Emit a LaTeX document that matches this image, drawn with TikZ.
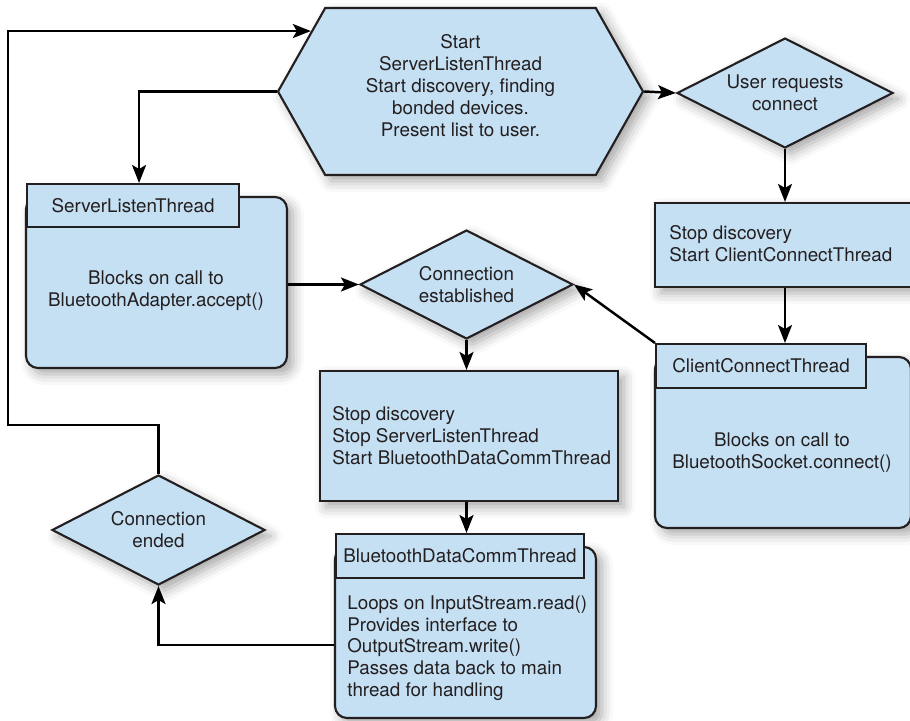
\documentclass[tikz,border=0pt]{standalone}
\usepackage{fontspec}
\setmainfont{TeX Gyre Heros}
\usetikzlibrary{arrows.meta,shapes.geometric,shapes.symbols,shadows.blur}
\definecolor{paneblue}{RGB}{197,223,243}
\definecolor{inkgray}{RGB}{35,31,32}

\begin{document}
\begin{tikzpicture}[x=0.2mm, y=-0.2mm,
    font=\fontsize{10.7}{12.5}\selectfont, text=inkgray,
    soft/.style={blur shadow={shadow xshift=1.2mm, shadow yshift=-1.2mm, shadow blur radius=2.2mm, shadow opacity=35}},
    pane/.style={draw=inkgray, line width=1.2pt, fill=paneblue},
    decision/.style={pane, soft, diamond, aspect=2, inner sep=0pt, align=center},
    stepbox/.style={pane, soft, rectangle},
    threadbody/.style={pane, soft, rounded corners=2.4mm},
    threadtab/.style={pane, anchor=north west, inner sep=0pt},
    lefttext/.style={align=left, anchor=west, inner sep=0pt},
    flow/.style={draw=black, line width=1.4pt, -{Stealth[length=3.6mm, width=2.8mm, inset=0.8mm]}}]

\useasboundingbox (0,0) rectangle (910,721);

% start of the main thread
\node[pane, soft, signal, signal to=west and east, signal pointer angle=121,
      minimum width=73mm, minimum height=33.4mm] (start) at (460.5,91.5) {};
\node[align=center] (startText) at (460.5,86) {Start\\ServerListenThread\\Start discovery, finding\\bonded devices.\\Present list to user.};

% decisions
\node[decision, minimum width=43.2mm, minimum height=22mm] (ucon) at (785,93) {User requests\\connect};
\node[decision, minimum width=42.6mm, minimum height=21.8mm] (conn) at (466.5,284.5) {Connection\\established};
\node[decision, minimum width=42.6mm, minimum height=22mm] (cend) at (158.5,530) {Connection\\ended};

% plain steps
\node[stepbox, minimum width=52mm, minimum height=16.8mm] (cstart) at (785,245) {};
\node[lefttext] (cstartText) at (669,244) {Stop discovery\\Start ClientConnectThread};
\node[stepbox, minimum width=59.6mm, minimum height=26mm] (cmstart) at (469,436) {};
\node[lefttext] (cmstartText) at (332,435.5) {Stop discovery\\Stop ServerListenThread\\Start BluetoothDataCommThread};

% threads: body, then the tab on its corner
\node[threadbody, minimum width=52.2mm, minimum height=34.2mm] (slt) at (156.5,282.5) {};
\node[threadtab, minimum width=42.4mm, minimum height=8.6mm] (sltTab) at (26,183) {ServerListenThread};
\node[align=center] (sltText) at (156,291) {Blocks on call to\\BluetoothAdapter.accept()};

\node[threadbody, minimum width=51.2mm, minimum height=34.2mm] (cct) at (783,442.5) {};
\node[threadtab, minimum width=42mm, minimum height=8.8mm] (cctTab) at (655,343) {ClientConnectThread};
\node[align=center] (cctText) at (782,453) {Blocks on call to\\BluetoothSocket.connect()};

\node[threadbody, minimum width=52.2mm, minimum height=34.2mm] (bdc) at (465.5,632.5) {};
\node[threadtab, minimum width=49.6mm, minimum height=8.8mm] (bdcTab) at (335,533) {BluetoothDataCommThread};
\node[lefttext] (bdcText) at (347,648)
      {Loops on InputStream.read()\\Provides interface to\\OutputStream.write()\\Passes data back to main\\thread for handling};

% connectors
\draw[flow] (start.east) -- (ucon.west);
\draw[flow] (ucon.south) -- (cstart.north);
\draw[flow] (cstart.south) -- (cctTab.north -| cstart.south);
\draw[flow] (cctTab.north west) -- (conn.east);
\draw[flow] (start.west) -| ([xshift=1.2mm]sltTab.north);
\draw[flow] (slt.east |- conn.west) -- (conn.west);
\draw[flow] (conn.south) -- (conn.south |- cmstart.north);
\draw[flow] (conn.south |- cmstart.south) -- (conn.south |- bdcTab.north);
\draw[flow] ([yshift=-2.5mm]bdc.west) -| (cend.south);
\coordinate (back) at (8,425);
\draw[flow] (cend.north) |- (back) |- (start.158);
\end{tikzpicture}
\end{document}
